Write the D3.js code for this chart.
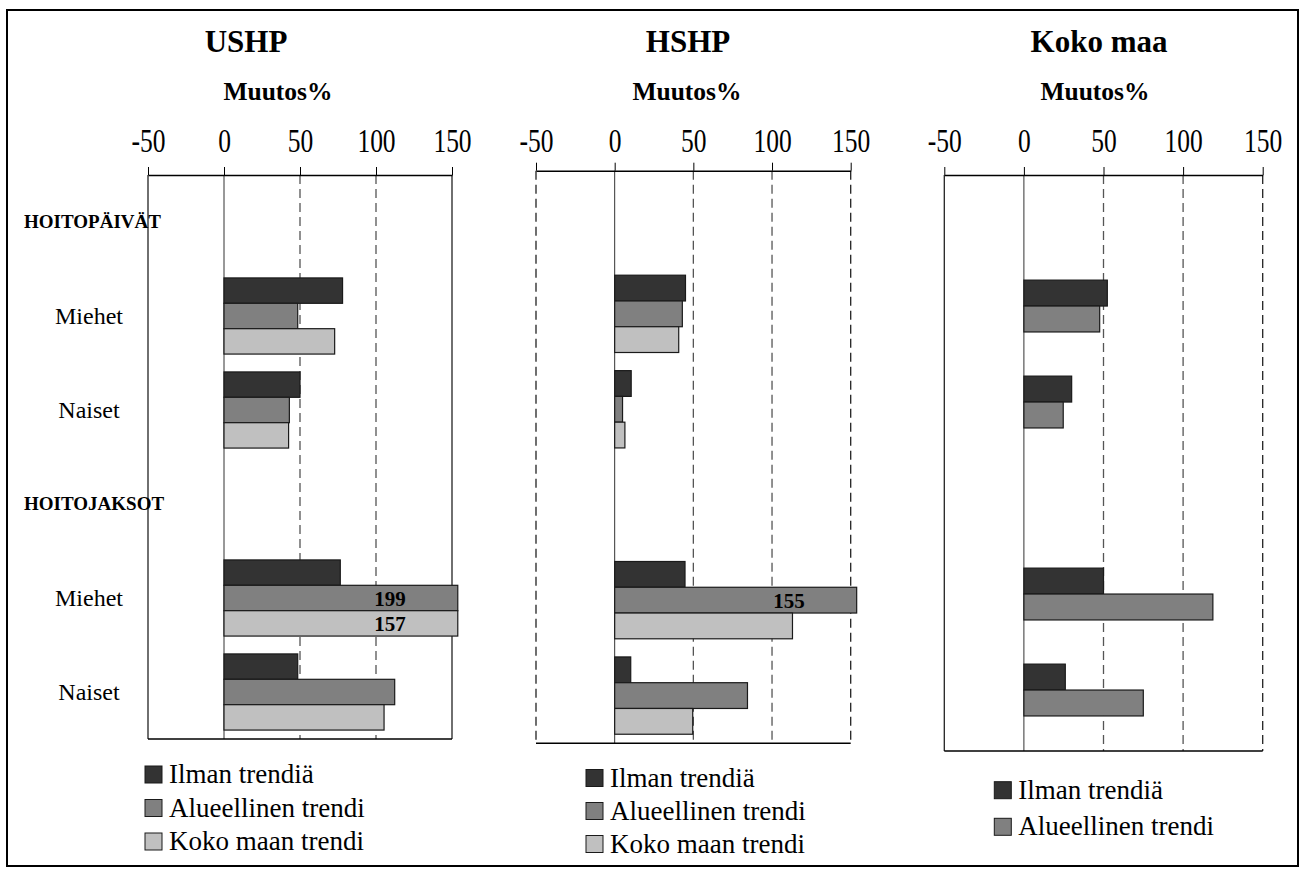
<!DOCTYPE html>
<html>
<head>
<meta charset="utf-8">
<script src="https://cdnjs.cloudflare.com/ajax/libs/d3/7.8.5/d3.min.js"></script>
<style>
body { margin: 0; background: #fff; }
text { font-family: "Liberation Serif", "Times New Roman", serif; fill: #000; }
</style>
</head>
<body>
<svg id="chart" width="1303" height="876"></svg>
<script>
var regions = ['USHP', 'HSHP', 'Koko maa'];
var rowLabels = ['HOITOPÄIVÄT', 'Miehet', 'Naiset', 'HOITOJAKSOT', 'Miehet', 'Naiset'];
var headerRows = [0, 3];
var barRows = [1, 2, 4, 5];
var seriesNames = ['Ilman trendiä', 'Alueellinen trendi', 'Koko maan trendi'];
var seriesColors = ['#333333', '#808080', '#c0c0c0'];
var xTicks = [-50, 0, 50, 100, 150];

// Miehet, Naiset (hoitopäivät), Miehet, Naiset (hoitojaksot)
var ushpIlman = [78, 50, 76.5, 48.5];
var ushpAlue = [48.5, 43, 199, 112.3];
var ushpKoko = [72.8, 42.5, 157, 105.3];
var hshpIlman = [45, 10.5, 44.7, 10.2];
var hshpAlue = [43, 5, 155, 84.4];
var hshpKoko = [40.7, 6.5, 113, 49.6];
var kokoIlman = [52.4, 30, 50, 26];
var kokoAlue = [47.6, 24.7, 118.7, 75];

var regionValues = [
    [ushpIlman, ushpAlue, ushpKoko],
    [hshpIlman, hshpAlue, hshpKoko],
    [kokoIlman, kokoAlue, null]
];

// panel layout
var panels = [
    {left: 148, right: 452, top: 175, bottom: 739, titleX: 246, unitX: 278,
        legX: 145, legY: 766, legStep: 33.5, edges: ['solid', 'solid'], rowText: true},
    {left: 536, right: 850.7, top: 170.7, bottom: 743.3, titleX: 688, unitX: 687,
        legX: 586, legY: 769.5, legStep: 33, edges: ['dash', 'dash'], rowText: false},
    {left: 944.3, right: 1262.7, top: 175, bottom: 751, titleX: 1099, unitX: 1095,
        legX: 994.3, legY: 781.7, legStep: 36.6, edges: ['solid', 'dash'], rowText: false}
];
var clipMax = 153.8;

var svg = d3.select('#chart');

svg.append('rect')
    .attr('x', 7).attr('y', 10)
    .attr('width', 1291).attr('height', 856)
    .attr('fill', 'none')
    .attr('stroke', '#000')
    .attr('stroke-width', 2);

panels.forEach(function(p, pi) {
    var g = svg.append('g').attr('class', 'panel');
    var x = d3.scaleLinear().domain([-50, 150]).range([p.left, p.right]);
    var y = d3.scaleBand().domain(d3.range(rowLabels.length))
        .range([p.top, p.bottom])
        .paddingInner(0.19)
        .paddingOuter(0.095);
    var ys = d3.scaleBand().domain([0, 1, 2]).range([0, y.bandwidth()]);

    g.append('text')
        .attr('x', p.titleX).attr('y', 52)
        .attr('text-anchor', 'middle')
        .style('font-size', '31px')
        .style('font-weight', 'bold')
        .text(regions[pi]);
    g.append('text')
        .attr('x', p.unitX).attr('y', 100)
        .attr('text-anchor', 'middle')
        .style('font-size', '25.5px')
        .style('font-weight', 'bold')
        .text('Muutos%');

    // grid
    g.selectAll('.grid')
        .data(xTicks)
        .enter()
        .append('line')
        .attr('class', 'grid')
        .attr('x1', function(d) { return x(d); })
        .attr('x2', function(d) { return x(d); })
        .attr('y1', p.top)
        .attr('y2', p.bottom)
        .attr('stroke', function(d) {
            if (d == 0) return '#333';
            if (d == -50 || d == 150) return '#222';
            return '#555';
        })
        .attr('stroke-width', function(d) { return d == 0 ? 1 : 1.3; })
        .attr('stroke-dasharray', function(d) {
            if (d == 0) return null;
            if (d == -50) return p.edges[0] == 'dash' ? '9,5' : null;
            if (d == 150) return p.edges[1] == 'dash' ? '9,5' : null;
            return '9,5';
        });

    g.append('line')
        .attr('x1', p.left).attr('x2', p.right)
        .attr('y1', p.bottom).attr('y2', p.bottom)
        .attr('stroke', '#000')
        .attr('stroke-width', 1.5);

    var axis = g.append('g')
        .attr('transform', 'translate(0,' + p.top + ')')
        .call(d3.axisTop(x)
            .tickValues(xTicks)
            .tickFormat(function(d) { return String(d); })
            .tickSize(8)
            .tickSizeOuter(0));
    axis.select('.domain').attr('stroke', '#000').attr('stroke-width', 1.5);
    axis.selectAll('.tick line').attr('stroke', '#000');
    axis.selectAll('.tick text')
        .attr('y', 0)
        .attr('transform', 'translate(0,' + (152 - p.top) + ') scale(1,1.3)')
        .style('font-family', '"Liberation Serif", "Times New Roman", serif')
        .style('font-size', '25.5px')
        .attr('fill', '#000');

    // bars
    regionValues[pi].forEach(function(vals, s) {
        if (!vals) return;
        vals.forEach(function(v, i) {
            var row = barRows[i];
            var yy = y(row) + ys(s);
            var vv = Math.min(v, clipMax);
            g.append('rect')
                .attr('x', x(0))
                .attr('y', yy)
                .attr('width', x(vv) - x(0))
                .attr('height', ys.bandwidth())
                .attr('fill', seriesColors[s])
                .attr('stroke', '#1a1a1a')
                .attr('stroke-width', 1.2);
            if (v > 150) {
                g.append('text')
                    .attr('x', x(vv) - 52)
                    .attr('y', yy + ys.bandwidth() / 2 + 7.5)
                    .attr('text-anchor', 'end')
                    .style('font-size', '21px')
                    .style('font-weight', 'bold')
                    .text(v);
            }
        });
    });

    // row labels
    if (p.rowText) {
        rowLabels.forEach(function(lab, r) {
            var isHead = headerRows.indexOf(r) >= 0;
            g.append('text')
                .attr('x', isHead ? 24 : 89)
                .attr('y', y.step() * r + p.top + y.step() / 2 + (isHead ? 6 : 8))
                .attr('text-anchor', isHead ? 'start' : 'middle')
                .style('font-size', isHead ? '19px' : '24px')
                .style('font-weight', isHead ? 'bold' : 'normal')
                .text(lab);
        });
    }

    // legend
    var nSeries = regionValues[pi].filter(function(d) { return d; }).length;
    var leg = g.selectAll('.legend')
        .data(seriesNames.slice(0, nSeries))
        .enter()
        .append('g')
        .attr('class', 'legend')
        .attr('transform', function(d, i) {
            return 'translate(' + p.legX + ',' + (p.legY + i * p.legStep) + ')';
        });
    leg.append('rect')
        .attr('width', 17).attr('height', 17)
        .attr('fill', function(d, i) { return seriesColors[i]; })
        .attr('stroke', '#1a1a1a')
        .attr('stroke-width', 1);
    leg.append('text')
        .attr('x', 24).attr('y', 17)
        .style('font-size', '27px')
        .text(function(d) { return d; });
});
</script>
</body>
</html>
